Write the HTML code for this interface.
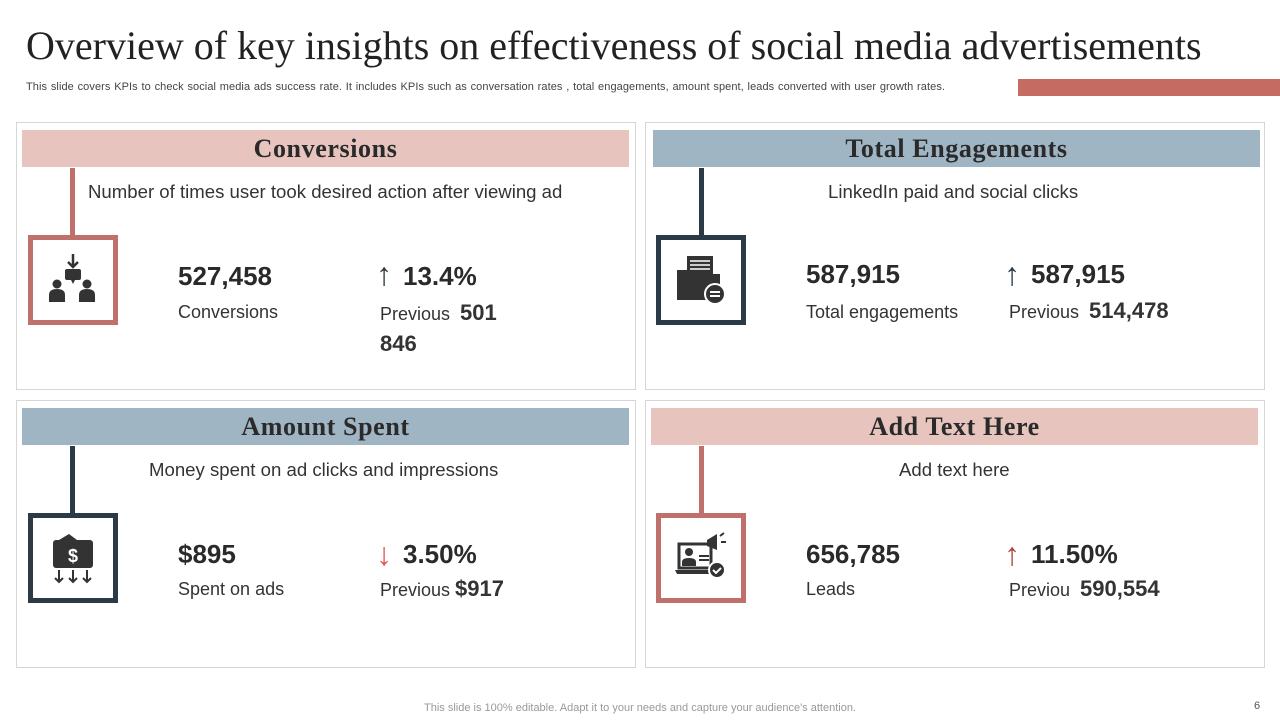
<!DOCTYPE html>
<html><head><meta charset="utf-8"><style>
body{margin:0;width:1280px;height:720px;background:#fff;position:relative;overflow:hidden;font-family:"Liberation Sans",sans-serif;color:#333}
.a{position:absolute}
.title{left:26px;top:22px;font-family:"Liberation Serif",serif;font-size:40px;color:#222;white-space:nowrap}
.sub{left:26px;top:81px;font-size:11px;letter-spacing:0.08px;word-spacing:0.6px;color:#444;white-space:nowrap}
.panel{border:1px solid #d6d6d6;width:618px;height:266px}
.hdr{width:607px;height:37px;font-family:"Liberation Serif",serif;font-weight:bold;font-size:26px;letter-spacing:0.6px;color:#2a2a2a;text-align:center;line-height:37px}
.pink{background:#e8c4bf}.blue{background:#a0b5c4}
.line{width:5px;height:68px}
.box{width:80px;height:80px;border:5px solid;background:#fff;display:flex;align-items:center;justify-content:center}
.desc{font-size:18.6px;color:#333;white-space:nowrap;text-align:center}
.big{font-size:26px;font-weight:bold;color:#2a2a2a;white-space:nowrap}
.lbl{font-size:18px;color:#333;white-space:nowrap}
.lbl b{font-size:22px;color:#333}
.arr{font-size:32px;font-weight:bold}
</style></head><body>
<div class="a title">Overview of key insights on effectiveness of social media advertisements</div>
<div class="a sub">This slide covers KPIs to check social media ads success rate. It includes KPIs such as conversation rates , total engagements, amount spent, leads converted with user growth rates.</div>
<div class="a" style="left:1018px;top:79px;width:262px;height:17px;background:#c56b62"></div>

<div class="a panel" style="left:16px;top:122px"></div>
<div class="a hdr pink" style="left:22px;top:130px">Conversions</div>
<div class="a line" style="left:70px;top:168px;background:#c0706a"></div>
<div class="a box" style="left:28px;top:235px;border-color:#c0706a">
<svg width="56" height="56" viewBox="0 0 56 56"><path d="M28 2v12M23 10l5 5 5-5" stroke="#333" stroke-width="2.5" fill="none"/><rect x="20" y="17" width="16" height="11" rx="2" fill="#333"/><path d="M26 28l2 4 2-4z" fill="#333"/><circle cx="12" cy="32" r="4.5" fill="#333"/><path d="M4 50v-7q0-6 8-6t8 6v7z" fill="#333"/><circle cx="42" cy="32" r="4.5" fill="#333"/><path d="M34 50v-7q0-6 8-6t8 6v7z" fill="#333"/></svg></div>
<div class="a desc" style="left:88px;top:181px">Number of times user took desired action after viewing ad</div>
<div class="a big" style="left:178px;top:261px">527,458</div>
<div class="a lbl" style="left:178px;top:302px">Conversions</div>
<div class="a arr" style="left:376px;top:256px;color:#2b3a45">↑</div>
<div class="a big" style="left:403px;top:261px">13.4%</div>
<div class="a lbl" style="left:380px;top:298px;line-height:29px">Previous&nbsp; <b>501</b><br><b>846</b></div>

<div class="a panel" style="left:645px;top:122px"></div>
<div class="a hdr blue" style="left:653px;top:130px">Total Engagements</div>
<div class="a line" style="left:699px;top:168px;background:#2b3a45"></div>
<div class="a box" style="left:656px;top:235px;border-color:#2b3a45">
<svg width="56" height="56" viewBox="0 0 56 56"><rect x="14" y="4" width="26" height="20" fill="#333"/><path d="M17 9h20M17 13h20M17 17h20" stroke="#fff" stroke-width="1.5"/><path d="M4 18h14l3 4h26v26H4z" fill="#333"/><circle cx="42" cy="42" r="10" fill="#333" stroke="#fff" stroke-width="2"/><path d="M37 40h10M37 44h10" stroke="#fff" stroke-width="2"/></svg></div>
<div class="a desc" style="left:828px;top:181px">LinkedIn paid and social clicks</div>
<div class="a big" style="left:806px;top:259px">587,915</div>
<div class="a lbl" style="left:806px;top:302px">Total engagements</div>
<div class="a arr" style="left:1004px;top:256px;color:#2b3a45">↑</div>
<div class="a big" style="left:1031px;top:259px">587,915</div>
<div class="a lbl" style="left:1009px;top:298px">Previous&nbsp; <b>514,478</b></div>

<div class="a panel" style="left:16px;top:400px"></div>
<div class="a hdr blue" style="left:22px;top:408px">Amount Spent</div>
<div class="a line" style="left:70px;top:446px;background:#2b3a45"></div>
<div class="a box" style="left:28px;top:513px;border-color:#2b3a45">
<svg width="56" height="56" viewBox="0 0 56 56"><path d="M14 10l10-6 8 6" fill="#333"/><rect x="8" y="10" width="40" height="28" rx="3" fill="#333"/><text x="28" y="32" font-family="Liberation Sans" font-size="18" font-weight="bold" fill="#fff" text-anchor="middle">$</text><path d="M14 40v12M10 48l4 4 4-4M28 40v12M24 48l4 4 4-4M42 40v12M38 48l4 4 4-4" stroke="#333" stroke-width="2" fill="none"/></svg></div>
<div class="a desc" style="left:149px;top:459px">Money spent on ad clicks and impressions</div>
<div class="a big" style="left:178px;top:539px">$895</div>
<div class="a lbl" style="left:178px;top:579px">Spent on ads</div>
<div class="a arr" style="left:376px;top:536px;color:#e05a4f">↓</div>
<div class="a big" style="left:403px;top:539px">3.50%</div>
<div class="a lbl" style="left:380px;top:576px">Previous <b>$917</b></div>

<div class="a panel" style="left:645px;top:400px"></div>
<div class="a hdr pink" style="left:651px;top:408px">Add Text Here</div>
<div class="a line" style="left:699px;top:446px;background:#c0706a"></div>
<div class="a box" style="left:656px;top:513px;border-color:#c0706a">
<svg width="56" height="56" viewBox="0 0 56 56"><rect x="6" y="14" width="32" height="24" fill="none" stroke="#333" stroke-width="3"/><circle cx="16" cy="22" r="4" fill="#333"/><path d="M9 36v-4q0-4 7-4t7 4v4z" fill="#333"/><path d="M26 26h10M26 30h10" stroke="#333" stroke-width="2"/><path d="M2 40h36l-2 4H4z" fill="#333"/><path d="M34 10l10-6v16l-10-4z" fill="#333"/><path d="M47 6l4-3M48 12h5" stroke="#333" stroke-width="2"/><circle cx="44" cy="40" r="8" fill="#333" stroke="#fff" stroke-width="2"/><path d="M40 40l3 3 5-5" stroke="#fff" stroke-width="2" fill="none"/></svg></div>
<div class="a desc" style="left:899px;top:459px">Add text here</div>
<div class="a big" style="left:806px;top:539px">656,785</div>
<div class="a lbl" style="left:806px;top:579px">Leads</div>
<div class="a arr" style="left:1004px;top:536px;color:#a9483e">↑</div>
<div class="a big" style="left:1031px;top:539px">11.50%</div>
<div class="a lbl" style="left:1009px;top:576px">Previou&nbsp; <b>590,554</b></div>

<div class="a" style="left:0;width:1280px;top:702px;text-align:center;font-size:11px;color:#999">This slide is 100% editable. Adapt it to your needs and capture your audience's attention.</div>
<div class="a" style="left:1254px;top:700px;font-size:11px;color:#555">6</div>
</body></html>
